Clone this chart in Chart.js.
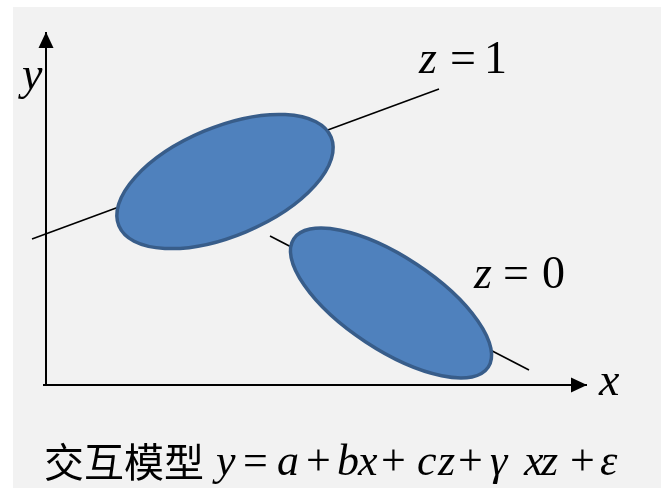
<!DOCTYPE html>
<html><head><meta charset="utf-8">
<script src="https://cdn.jsdelivr.net/npm/chart.js@4/dist/chart.umd.min.js"></script>
<style>html,body{margin:0;padding:0;background:#ffffff;}#wrap{width:661px;height:488px;}</style>
</head><body><div id="wrap"><canvas id="c" width="661" height="488"></canvas></div>
<script>
// ---- data (diagram units, origin at the axes corner) ----
const yAxisLine = [{x:0,y:0},{x:0,y:337}];
const yAxisTip = [{x:0,y:353}];
const xAxisLine = [{x:-3,y:0},{x:525,y:0}];
const xAxisTip = [{x:541,y:0}];
const lineZ1 = [{x:-14,y:146},{x:393,y:296}];
const lineZ0 = [{x:224,y:149},{x:483,y:15}];
const groupLabels = ['z','=','1','z','=','0'];
const ellipseCenterX = [179, 345];
const ellipseCenterY = [203.5, 82];
const ellipseMajor = [115, 116.5];
const ellipseMinor = [54.5, 46.5];
const ellipseAngleDeg = [22.7, -33.4];
const axisLabels = ['x','y'];
const captionCJK = '交互模型';
const captionMath = ['y','=','a','+','b','x','+','c','z','+','γ','x','z','+','ε'];

// ---- layout / style ----
const SERIF = '"Liberation Serif", "DejaVu Serif", serif';
const ITAL = t => /[A-Za-zγε]/.test(t);
const groupLayout = [[418,73],[452,73],[488,73],[473,288],[505,288],[543,288]];
const mathLeft = [212,245,278,308,338,357,383,418,437,460,490,523,540,572,600];

function tok(ctx, t, left, base, font){
  ctx.font = font;
  const m = ctx.measureText(t);
  ctx.fillText(t, left + m.actualBoundingBoxLeft, base);
}

const diagramPlugin = {
  id: 'diagram',
  beforeDraw(chart){
    const ctx = chart.ctx;
    ctx.save();
    ctx.fillStyle = '#ffffff';
    ctx.fillRect(0,0,chart.width,chart.height);
    ctx.fillStyle = '#f2f2f2';
    ctx.fillRect(13,7,chart.width-13,chart.height-7);
    ctx.restore();
  },
  afterDatasetsDraw(chart){
    const ctx = chart.ctx, xs = chart.scales.x, ys = chart.scales.y;
    const ux = Math.abs(xs.getPixelForValue(1)-xs.getPixelForValue(0));
    ctx.save();
    for (let i=0;i<ellipseCenterX.length;i++){
      const cx = xs.getPixelForValue(ellipseCenterX[i]);
      const cy = ys.getPixelForValue(ellipseCenterY[i]);
      ctx.beginPath();
      ctx.ellipse(cx, cy, ellipseMajor[i]*ux, ellipseMinor[i]*ux, -ellipseAngleDeg[i]*Math.PI/180, 0, Math.PI*2);
      ctx.fillStyle = '#4f81bd';
      ctx.fill();
      ctx.lineWidth = 3.5;
      ctx.strokeStyle = '#385d8a';
      ctx.stroke();
    }
    ctx.fillStyle = '#000';
    const ty = {x:xs.getPixelForValue(yAxisTip[0].x), y:ys.getPixelForValue(yAxisTip[0].y)};
    ctx.beginPath(); ctx.moveTo(ty.x, ty.y); ctx.lineTo(ty.x-7.5, ty.y+16); ctx.lineTo(ty.x+7.5, ty.y+16); ctx.closePath(); ctx.fill();
    const tx = {x:xs.getPixelForValue(xAxisTip[0].x), y:ys.getPixelForValue(xAxisTip[0].y)};
    ctx.beginPath(); ctx.moveTo(tx.x, tx.y); ctx.lineTo(tx.x-16, tx.y-7.5); ctx.lineTo(tx.x-16, tx.y+7.5); ctx.closePath(); ctx.fill();
    ctx.fillStyle = '#000';
    ctx.textAlign = 'left';
    ctx.textBaseline = 'alphabetic';
    groupLabels.forEach((t,i)=>{
      tok(ctx, t, groupLayout[i][0], groupLayout[i][1], (ITAL(t)?'italic ':'')+'46px '+SERIF);
    });
    tok(ctx, axisLabels[0], 598, 395, 'italic 46px '+SERIF);
    tok(ctx, axisLabels[1], 18, 89, 'italic 46px '+SERIF);
    tok(ctx, captionCJK, 45, 477, '40px "Noto Sans CJK SC", sans-serif');
    captionMath.forEach((t,i)=>{
      tok(ctx, t, mathLeft[i], 475, (ITAL(t)?'italic ':'')+'44px '+SERIF);
    });
    ctx.restore();
  }
};

const lineDs = (data, w) => ({data, showLine:true, borderColor:'#000', borderWidth:w, pointRadius:0, fill:false, tension:0});

new Chart(document.getElementById('c'), {
  type: 'scatter',
  data: { datasets: [
    lineDs(yAxisLine.concat(yAxisTip), 2),
    lineDs(xAxisLine.concat(xAxisTip), 2),
    lineDs(lineZ1, 1.6),
    lineDs(lineZ0, 1.6)
  ]},
  options: {
    responsive:false, animation:false,
    layout:{padding:0},
    plugins:{legend:{display:false}, tooltip:{enabled:false}},
    scales:{
      x:{type:'linear', display:false, min:-46, max:615},
      y:{type:'linear', display:false, min:-103, max:385}
    }
  },
  plugins:[diagramPlugin]
});
</script></body></html>
